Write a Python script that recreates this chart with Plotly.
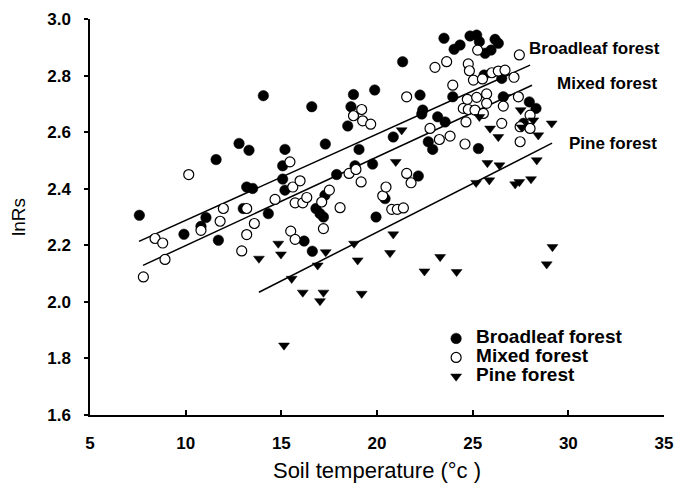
import plotly.graph_objects as go

# ---------------- data ----------------
broad_x = [7.58, 9.91, 10.8, 11.06, 11.59, 11.71, 12.79, 13.01, 13.19, 13.31, 13.5, 14.06, 14.32,
           15.07, 15.07, 15.19, 15.19, 16.19, 16.59, 16.62, 16.81, 17.02, 17.2, 17.28, 17.3, 17.89,
           18.47, 18.64, 18.77, 18.85, 19.06, 19.77, 19.88, 19.95, 20.42, 20.85, 21.34, 22.16, 22.25,
           22.34, 22.39, 22.68, 22.91, 23.17, 23.56, 23.5, 23.96, 24.03, 24.34, 24.86, 25.21, 25.35,
           25.3, 25.6, 25.65, 25.96, 26.17, 26.34, 26.52, 26.6, 27.65, 27.96, 28.31]
broad_y = [2.306, 2.239, 2.267, 2.298, 2.503, 2.218, 2.560, 2.330, 2.406, 2.536, 2.401, 2.729, 2.312,
           2.434, 2.481, 2.539, 2.395, 2.215, 2.690, 2.179, 2.330, 2.312, 2.300, 2.377, 2.558, 2.450,
           2.622, 2.690, 2.733, 2.481, 2.539, 2.487, 2.749, 2.300, 2.365, 2.583, 2.849, 2.445, 2.731,
           2.664, 2.678, 2.566, 2.539, 2.654, 2.636, 2.932, 2.725, 2.893, 2.908, 2.940, 2.943, 2.920,
           2.542, 2.802, 2.879, 2.890, 2.928, 2.914, 2.790, 2.725, 2.631, 2.707, 2.684]

mixed_x = [7.79, 8.40, 8.8, 8.92, 10.16, 10.8, 11.8, 11.97, 12.93, 13.19, 13.19, 13.59, 14.67, 15.45,
           15.49, 15.6, 15.72, 15.72, 15.98, 16.12, 16.33, 17.11, 17.2, 17.51, 18.07, 18.54, 18.77,
           18.9, 19.17, 19.2, 19.25, 19.67, 20.3, 20.47, 20.77, 21.06, 21.38, 21.55, 21.55, 21.78,
           22.77, 23.03, 23.26, 23.64, 23.82, 23.96, 24.51, 24.6, 24.65, 24.72, 24.77, 24.77, 24.83,
           25.04, 25.12, 25.21, 25.26, 25.51, 25.56, 25.73, 25.73, 26.0, 26.34, 26.52, 26.6, 26.69,
           27.16, 27.39, 27.44, 27.48, 27.48, 28.0, 28.0]
mixed_y = [2.088, 2.224, 2.208, 2.150, 2.450, 2.253, 2.285, 2.330, 2.180, 2.238, 2.330, 2.277, 2.362,
           2.495, 2.250, 2.406, 2.350, 2.221, 2.428, 2.350, 2.369, 2.353, 2.259, 2.395, 2.333, 2.454,
           2.658, 2.468, 2.424, 2.680, 2.640, 2.628, 2.375, 2.406, 2.327, 2.327, 2.332, 2.454, 2.725,
           2.421, 2.613, 2.829, 2.574, 2.849, 2.586, 2.766, 2.684, 2.558, 2.636, 2.716, 2.680, 2.841,
           2.817, 2.784, 2.678, 2.723, 2.890, 2.788, 2.666, 2.735, 2.702, 2.810, 2.816, 2.631, 2.692,
           2.819, 2.794, 2.725, 2.873, 2.619, 2.566, 2.660, 2.613]

pine_x = [13.83, 14.84, 14.98, 15.14, 15.54, 16.12, 16.9, 17.02, 17.2, 17.32, 18.8, 18.99, 19.2, 20.68,
          20.85, 20.98, 21.29, 22.48, 23.3, 24.16, 25.18, 25.35, 25.77, 25.87, 25.91, 26.34, 26.4,
          26.7, 27.22, 27.44, 27.51, 27.56, 28.05, 28.17, 28.35, 28.43, 28.87, 29.13, 29.17]
pine_y = [2.153, 2.206, 2.168, 1.846, 2.082, 2.033, 2.129, 2.003, 2.033, 2.176, 2.206, 2.147, 2.029,
          2.173, 2.239, 2.495, 2.607, 2.108, 2.159, 2.106, 2.421, 2.654, 2.491, 2.430, 2.613, 2.583,
          2.483, 2.725, 2.416, 2.424, 2.678, 2.617, 2.434, 2.642, 2.501, 2.589, 2.133, 2.631, 2.194]

# regression lines: [x start, x end], intercept, slope
fit_names = ["Broadleaf forest", "Mixed forest", "Pine forest"]
fit_x0 = [7.56, 7.77, 13.83]
fit_x1 = [28.0, 28.1, 29.15]
fit_b = [1.9836, 1.8856, 1.5583]
fit_m = [0.03048, 0.03133, 0.0344]

x_ticks = [5, 10, 15, 20, 25, 30, 35]
y_ticks = [1.6, 1.8, 2.0, 2.2, 2.4, 2.6, 2.8, 3.0]

FONT = "Liberation Sans, Arial, sans-serif"

fig = go.Figure()

# regression lines
for i in range(3):
    xs = [fit_x0[i], fit_x1[i]]
    ys = [fit_b[i] + fit_m[i] * v for v in xs]
    fig.add_trace(go.Scatter(x=xs, y=ys, mode="lines", showlegend=False,
                             line=dict(color="black", width=1.5), hoverinfo="skip"))

LEG = "<span style='font-size:19px'>%s</span>"
fig.add_trace(go.Scatter(x=broad_x, y=broad_y, mode="markers", name=LEG % "Broadleaf forest",
                         marker=dict(symbol="circle", size=10.5, color="black",
                                     line=dict(color="black", width=0.5))))
fig.add_trace(go.Scatter(x=mixed_x, y=mixed_y, mode="markers", name=LEG % "Mixed forest",
                         marker=dict(symbol="circle", size=10, color="white",
                                     line=dict(color="black", width=1.2))))
fig.add_trace(go.Scatter(x=pine_x, y=pine_y, mode="markers", name=LEG % "Pine forest",
                         marker=dict(symbol="triangle-down", size=9.5, color="black",
                                     line=dict(color="black", width=0.5))))

# line labels
lab_x = [27.84, 29.31, 29.93]
lab_y = [2.894, 2.773, 2.561]
for i in range(3):
    fig.add_annotation(x=lab_x[i], y=lab_y[i], xref="x", yref="y", text="<b>%s</b>" % fit_names[i],
                       showarrow=False, xanchor="left", yanchor="middle",
                       font=dict(family=FONT, size=17, color="black"))

# page has an 8px body margin, so the figure is a bit smaller than the window
fig.update_layout(
    width=679, height=475,
    margin=dict(l=82, r=23, t=11, b=68),
    paper_bgcolor="white", plot_bgcolor="white",
    font=dict(family=FONT, color="black"),
    showlegend=True,
    legend=dict(x=0.603, y=0.23, xanchor="left", yanchor="top",
                bgcolor="rgba(0,0,0,0)", borderwidth=0, tracegroupgap=0,
                font=dict(family=FONT, size=11.5, color="black", weight="bold"),
                itemsizing="trace"),
)

fig.update_xaxes(range=[5, 35], tickvals=x_ticks, ticktext=[str(v) for v in x_ticks],
                 showgrid=False, zeroline=False, showline=True, linecolor="black", linewidth=1.5,
                 ticks="inside", ticklen=5, tickwidth=1.5, tickcolor="black",
                 tickfont=dict(family=FONT, size=17, color="black", weight="bold"),
                 ticklabelstandoff=12,
                 title=dict(text="Soil temperature (°c )", standoff=16,
                            font=dict(family=FONT, size=22, color="black")),
                 automargin=False)
fig.update_yaxes(range=[1.6, 3.0], tickvals=y_ticks, ticktext=["%.1f" % v for v in y_ticks],
                 showgrid=False, zeroline=False, showline=True, linecolor="black", linewidth=1.5,
                 ticks="outside", ticklen=4, tickwidth=1.5, tickcolor="black",
                 tickfont=dict(family=FONT, size=17, color="black", weight="bold"),
                 ticklabelstandoff=10,
                 title=dict(text="lnRs", standoff=20,
                            font=dict(family=FONT, size=19, color="black")),
                 automargin=False)

fig.write_html("out.html")
